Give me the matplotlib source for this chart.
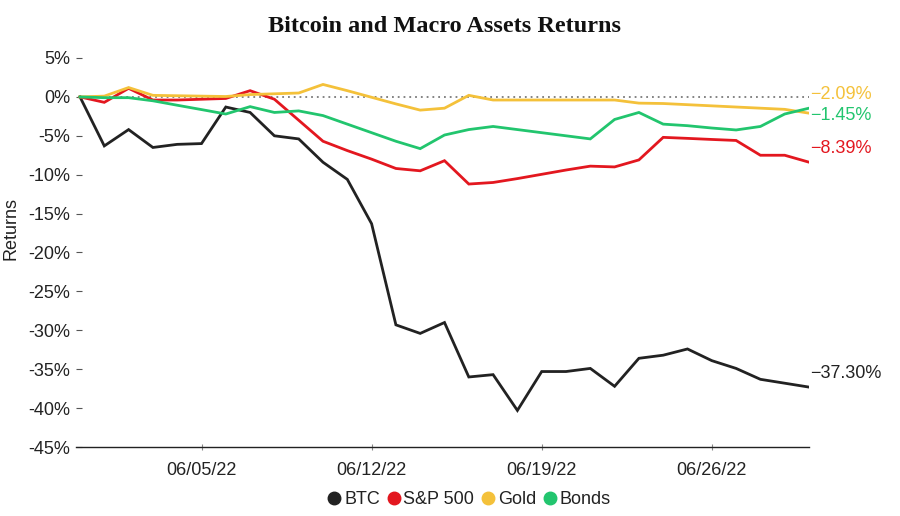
import matplotlib
matplotlib.use("Agg")
import matplotlib.pyplot as plt
import matplotlib.dates as mdates
from matplotlib.lines import Line2D
import numpy as np
import pandas as pd

# ---- data (percent returns, daily 2022-05-31 .. 2022-06-30) ----
dates = pd.date_range("2022-05-31", "2022-06-30", freq="D")
btc = [0, -6.3, -4.2, -6.5, -6.1, -6.0, -1.3, -2.0, -5.0, -5.4, -8.4, -10.6, -16.3,
       -29.3, -30.4, -29.0, -36.0, -35.7, -40.3, -35.3, -35.3, -34.9, -37.2, -33.6,
       -33.2, -32.4, -33.9, -34.9, -36.3, -36.8, -37.30]
sp500 = [0, -0.7, 1.1, -0.4, -0.4, -0.3, -0.2, 0.8, -0.3, -3.0, -5.7, -6.9, -8.0,
         -9.2, -9.5, -8.2, -11.2, -11.0, -10.5, -9.95, -9.4, -8.9, -9.0, -8.1,
         -5.2, -5.33, -5.47, -5.6, -7.5, -7.5, -8.39]
gold = [0, 0.1, 1.2, 0.2, 0.15, 0.1, 0.05, 0.3, 0.4, 0.5, 1.6, 0.8, -0.05, -0.9,
        -1.7, -1.45, 0.2, -0.4, -0.4, -0.4, -0.4, -0.4, -0.4, -0.8, -0.85, -1.0,
        -1.15, -1.3, -1.45, -1.6, -2.09]
bonds = [0, -0.1, -0.1, -0.5, -1.07, -1.63, -2.2, -1.25, -2.0, -1.8, -2.4, -3.5,
         -4.6, -5.7, -6.65, -4.9, -4.2, -3.8, -4.2, -4.6, -5.0, -5.4, -2.9, -2.0,
         -3.5, -3.7, -4.0, -4.25, -3.8, -2.2, -1.45]

series_names = ["BTC", "S&P 500", "Gold", "Bonds"]
series_values = [btc, sp500, gold, bonds]
series_colors = ["#222222", "#e3171f", "#f4c13a", "#22c56e"]
end_labels = ["\u221237.30%", "\u22128.39%", "\u22122.09%", "\u22121.45%"]
end_label_y = [-35.6, -6.6, 0.35, -2.45]

y_ticks = [5, 0, -5, -10, -15, -20, -25, -30, -35, -40, -45]
y_tick_labels = ["5%", "0%", "-5%", "-10%", "-15%", "-20%", "-25%", "-30%",
                 "-35%", "-40%", "-45%"]
x_ticks = pd.to_datetime(["2022-06-05", "2022-06-12", "2022-06-19", "2022-06-26"])

# ---- figure ----
plt.rcParams["font.family"] = ["Liberation Sans", "DejaVu Sans"]
W, H = 900, 516
fig = plt.figure(figsize=(W / 100, H / 100), dpi=100)
ax = fig.add_axes([76 / W, 1 - 447 / H, (809 - 76) / W, (447 - 58) / H])

for vals, col in zip(series_values, series_colors):
    ax.plot(dates, vals, color=col, lw=2.0, solid_joinstyle="miter", zorder=3)

ax.plot([dates[0], dates[-1]], [0, 0], color="#7a7a7a", lw=1.3,
        linestyle=(0, (1, 2.2)), zorder=2)

for lab, ly, col in zip(end_labels, end_label_y, series_colors):
    ax.annotate(lab, xy=(dates[-1], ly), xytext=(1, 0), textcoords="offset points",
                ha="left", va="center", fontsize=13, color=col,
                annotation_clip=False)

ax.set_xlim(dates[0] - pd.Timedelta(days=4 / 24.3), dates[-1])
ax.set_ylim(-45, 5)
ax.set_yticks(y_ticks)
ax.set_yticklabels(y_tick_labels)
ax.set_xticks(x_ticks)
ax.xaxis.set_major_formatter(mdates.DateFormatter("%m/%d/%y"))

for s in ["top", "right", "left"]:
    ax.spines[s].set_visible(False)
ax.spines["bottom"].set_color("#222222")
ax.spines["bottom"].set_linewidth(1.0)

ax.tick_params(axis="y", direction="in", length=4, width=0.8, color="#555555",
               pad=4, labelsize=13, labelcolor="#222222")
ax.tick_params(axis="x", direction="inout", length=5, width=0.8, color="#888888",
               pad=8, labelsize=13, labelcolor="#222222")

ax.set_ylabel("Returns", fontsize=13, color="#222222")
ax.yaxis.set_label_coords((19 - 76) / (809 - 76), (447 - 228) / (447 - 58))

fig.text(445 / W, 1 - 26 / H, "Bitcoin and Macro Assets Returns",
         ha="center", va="center", fontsize=17.5, fontweight="bold",
         family=["Liberation Serif", "DejaVu Serif"], color="#111111")

handles = [Line2D([], [], marker="o", linestyle="", color=c, markersize=9)
           for c in series_colors]
fig.legend(handles, series_names, loc="center", ncol=4,
           bbox_to_anchor=(468 / W, 1 - 500 / H), frameon=False, fontsize=13,
           handletextpad=0.05, columnspacing=0.25, handlelength=1.0,
           borderpad=0, labelcolor="#222222")

fig.savefig("out.png", dpi=100)
